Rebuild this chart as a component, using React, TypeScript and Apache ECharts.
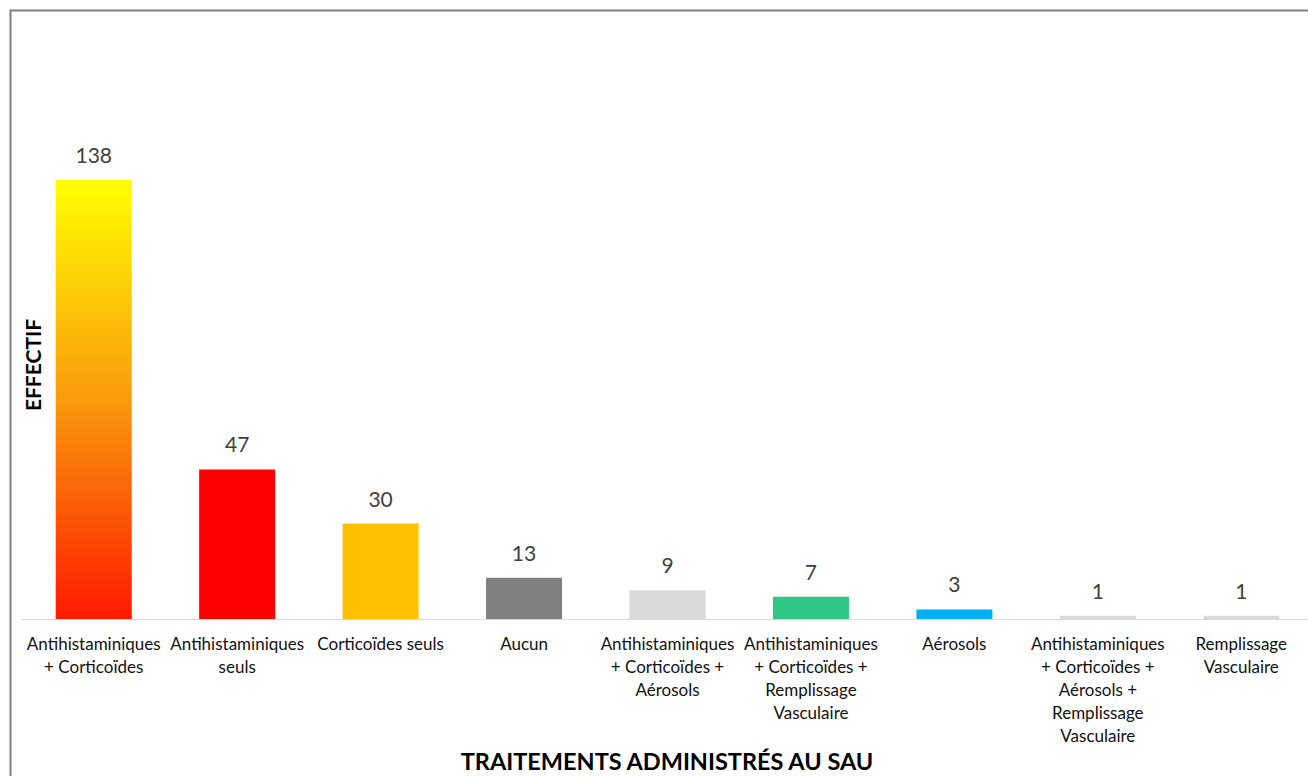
import React, { useEffect, useRef } from "react";
import * as echarts from "echarts";

const categories: string[] = [
  "Antihistaminiques\n+ Corticoïdes",
  "Antihistaminiques\nseuls",
  "Corticoïdes seuls",
  "Aucun",
  "Antihistaminiques\n+ Corticoïdes +\nAérosols",
  "Antihistaminiques\n+ Corticoïdes +\nRemplissage\nVasculaire",
  "Aérosols",
  "Antihistaminiques\n+ Corticoïdes +\nAérosols +\nRemplissage\nVasculaire",
  "Remplissage\nVasculaire",
];
const values: number[] = [138, 47, 30, 13, 9, 7, 3, 1, 1];
const barColors: (string | null)[] = [null, "#FF0000", "#FFC000", "#808080", "#D9D9D9", "#2EC783", "#00B0F0", "#D9D9D9", "#D9D9D9"];
const yAxisTitle = "EFFECTIF";
const xAxisTitle = "TRAITEMENTS ADMINISTRÉS AU SAU";

const FONT = "Lato, 'Open Sans', sans-serif";

export default function App() {
  const ref = useRef<HTMLDivElement>(null);
  useEffect(() => {
    document.body.style.margin = "0";
    if (!ref.current) return;
    const chart = echarts.init(ref.current, null, { renderer: "svg" });
    const gradient = new echarts.graphic.LinearGradient(0, 0, 0, 1, [
      { offset: 0, color: "#FFFF00" },
      { offset: 0.5, color: "#F99A0C" },
      { offset: 1, color: "#FF1A00" },
    ]);
    chart.setOption({
      animation: false,
      backgroundColor: "#FFFFFF",
      grid: { left: 22, top: 110, width: 1291, height: 509, outerBoundsMode: "none", containLabel: false },
      xAxis: {
        type: "category",
        data: categories,
        axisLine: { show: true, lineStyle: { color: "#D9D9D9", width: 1 } },
        axisTick: { show: false },
        axisLabel: {
          interval: 0,
          color: "#111111",
          fontSize: 17,
          fontFamily: FONT,
          lineHeight: 23,
          margin: 13,
          align: "center",
        },
      },
      yAxis: {
        type: "value",
        min: 0,
        max: 160,
        show: false,
        splitLine: { show: false },
      },
      series: [
        {
          type: "bar",
          data: values.map((v, i) => ({
            value: v,
            itemStyle: { color: barColors[i] ?? gradient },
          })),
          barCategoryGap: "47%",
          label: {
            show: true,
            position: "top",
            distance: 15,
            color: "#404040",
            fontSize: 21,
            fontFamily: FONT,
          },
        },
      ],
      graphic: [
        {
          type: "polyline",
          shape: { points: [[10.5, 776], [10.5, 10.5], [1310, 10.5]] },
          style: { stroke: "#808080", lineWidth: 2, fill: null },
          silent: true,
        },
        {
          type: "text",
          x: 32,
          y: 365,
          rotation: Math.PI / 2,
          style: {
            text: yAxisTitle,
            font: `bold 21px ${FONT}`,
            fill: "#000000",
            align: "center",
            verticalAlign: "middle",
          },
        },
        {
          type: "text",
          x: 667,
          y: 761,
          style: {
            text: xAxisTitle,
            font: `bold 23.5px ${FONT}`,
            fill: "#000000",
            align: "center",
            verticalAlign: "middle",
          },
        },
      ],
    });
    return () => chart.dispose();
  }, []);
  return <div ref={ref} style={{ width: 1308, height: 776 }} />;
}
